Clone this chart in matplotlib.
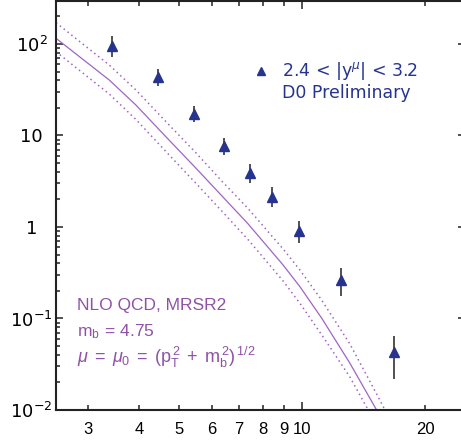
import matplotlib
matplotlib.use("Agg")
import matplotlib.pyplot as plt
import numpy as np
from matplotlib.ticker import FixedLocator, FixedFormatter, LogLocator, NullFormatter

plt.rcParams['font.family'] = ['Liberation Sans', 'DejaVu Sans']
plt.rcParams['mathtext.fontset'] = 'custom'
plt.rcParams['mathtext.rm'] = 'Liberation Sans'
plt.rcParams['mathtext.it'] = 'Liberation Sans:italic'
plt.rcParams['mathtext.bf'] = 'Liberation Sans:bold'

# D0 preliminary data, 2.4 < |y_mu| < 3.2
pt = [3.43, 4.43, 5.43, 6.44, 7.45, 8.45, 9.83, 12.41, 16.73]
xsec = [95.8, 43.3, 17.3, 7.72, 3.86, 2.13, 0.897, 0.262, 0.0430]
xsec_hi = [123, 52.9, 21.0, 9.46, 4.88, 2.72, 1.154, 0.354, 0.0644]
xsec_lo = [72.6, 34.8, 14.2, 6.12, 3.00, 1.64, 0.674, 0.1775, 0.0218]

# NLO QCD prediction: central value and scale band
nlo_pt = [2.50, 3.374, 3.921, 4.64, 5.50, 6.39, 7.35, 8.98, 9.87, 11.15, 13.08, 15.20, 15.75]
nlo_central = [115.4, 40.4, 21.5, 9.70, 4.38, 2.14, 1.098, 0.384, 0.2226, 0.1013, 0.0324, 0.0100, 0.0072]
up_pt = [2.50, 3.374, 3.921, 4.64, 5.50, 6.39, 7.35, 8.98, 9.87, 11.15, 13.08, 15.20, 15.93, 16.39]
nlo_upper = [171, 58.9, 31.4, 14.2, 6.44, 3.10, 1.613, 0.575, 0.339, 0.1594, 0.0526, 0.01496, 0.0100, 0.0072]
lo_pt = [2.50, 3.374, 3.921, 4.64, 5.50, 6.39, 7.35, 8.98, 9.87, 11.15, 13.08, 14.50, 15.06]
nlo_lower = [82.4, 28.4, 14.96, 6.69, 2.99, 1.458, 0.739, 0.257, 0.1466, 0.0667, 0.0229, 0.0100, 0.0072]

navy = '#27348f'
purple = '#8f52a6'
curve = '#a064c4'

fig = plt.figure(figsize=(4.61, 4.43), dpi=100)
ax = fig.add_axes([56 / 461, 33 / 443, 409 / 461, 409 / 443])
ax.set_xscale('log')
ax.set_yscale('log')
ax.set_xlim(2.5, 25)
ax.set_ylim(0.01, 295)

ax.plot(nlo_pt, nlo_central, color=curve, lw=0.9, zorder=2)
ax.plot(up_pt, nlo_upper, color=curve, lw=1.1, ls=(0, (1.0, 2.2)), zorder=2)
ax.plot(lo_pt, nlo_lower, color=curve, lw=1.1, ls=(0, (1.0, 2.2)), zorder=2)

y = np.array(xsec)
yerr = [y - np.array(xsec_lo), np.array(xsec_hi) - y]
ax.errorbar(pt, y, yerr=yerr, fmt='^', color=navy, ecolor='#333333',
            elinewidth=1.2, capsize=0, ms=7.7, mec=navy, zorder=3)

# legend-like annotations
ax.plot([0.5005], [0.8296], marker='^', ms=5.5, color=navy,
        transform=ax.transAxes, clip_on=False)
ax.text(0.552, 0.8296, r'2.4 < |y$^{\mu}$| < 3.2', transform=ax.transAxes,
        color=navy, fontsize=12.5, family='DejaVu Sans', va='center', ha='left',
        math_fontfamily='dejavusans')
ax.text(0.552, 0.7743, 'D0 Preliminary', transform=ax.transAxes,
        color=navy, fontsize=12.5, family='DejaVu Sans', va='center', ha='left')

ax.text(0.0506, 0.2445, 'NLO QCD, MRSR2', transform=ax.transAxes,
        color=purple, fontsize=12.5, va='baseline')
ax.text(0.0506, 0.179, r'$\mathregular{m_b \, = \, 4.75}$', transform=ax.transAxes,
        color=purple, fontsize=12.5, va='baseline')
ax.text(0.0506, 0.114,
        r'$\mu \; = \; \mu_\mathregular{0} \; = \; (\mathregular{p_T^{\,2} \; + \; m_b^{\,2}})^{\,\mathregular{1/2}}$',
        transform=ax.transAxes, color=purple, fontsize=13, va='baseline')

# x ticks
ax.xaxis.set_major_locator(FixedLocator([10]))
ax.xaxis.set_major_formatter(FixedFormatter(['10']))
ax.xaxis.set_minor_locator(FixedLocator([3, 4, 5, 6, 7, 8, 9, 20]))
ax.xaxis.set_minor_formatter(FixedFormatter(['3', '4', '5', '6', '7', '8', '9', '20']))

# y ticks
ax.yaxis.set_major_locator(FixedLocator([0.01, 0.1, 1, 10, 100]))
ax.yaxis.set_major_formatter(FixedFormatter([r'$10^{-2}$', r'$10^{-1}$', '1', '10', r'$10^{2}$']))
ax.yaxis.set_minor_locator(LogLocator(base=10, subs=np.arange(2, 10), numticks=20))
ax.yaxis.set_minor_formatter(NullFormatter())

ax.tick_params(which='both', direction='in', top=True, right=True, width=1.1, color='#222222')
ax.tick_params(axis='x', which='major', length=5.8, pad=9, labelsize=12)
ax.tick_params(axis='x', which='minor', length=3.3, pad=9, labelsize=12)
ax.tick_params(axis='y', which='major', length=5.3, pad=17.6, labelsize=13)
ax.tick_params(axis='y', which='minor', length=2.9, right=False)
for lab in ax.get_yticklabels():
    lab.set_ha('center')
    lab.set_family('DejaVu Sans')
    lab.set_math_fontfamily('dejavusans')

for s in ax.spines.values():
    s.set_linewidth(1.5)
    s.set_color('#222222')

fig.savefig('out.png', dpi=100)
